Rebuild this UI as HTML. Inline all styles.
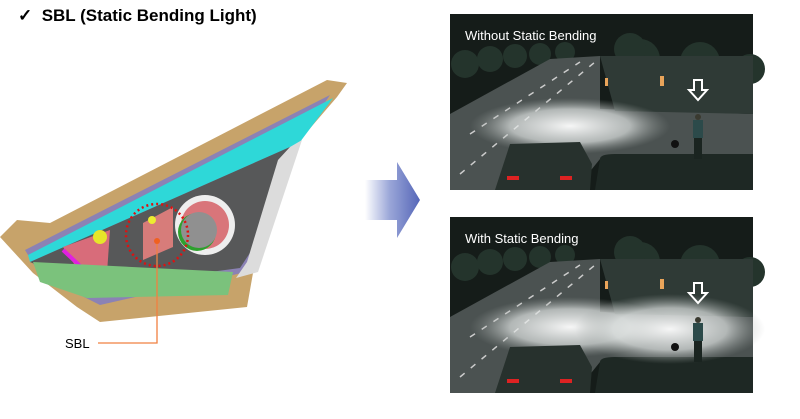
<!DOCTYPE html>
<html><head><style>
html,body{margin:0;padding:0;background:#fff;width:800px;height:419px;overflow:hidden;font-family:"Liberation Sans",sans-serif}
.t{position:absolute;left:18px;top:6px;font-size:17px;font-weight:bold;color:#000}
</style></head><body>
<div class="t">✓&nbsp; SBL (Static Bending Light)</div>
<svg width="800" height="419" style="position:absolute;left:0;top:0" xmlns="http://www.w3.org/2000/svg">
<defs>
<radialGradient id="lg" cx="50%" cy="50%" r="50%"><stop offset="0" stop-color="#fff" stop-opacity="0.95"/><stop offset="0.6" stop-color="#dfe3e2" stop-opacity="0.7"/><stop offset="1" stop-color="#9aa09e" stop-opacity="0"/></radialGradient>
<linearGradient id="ag" x1="0" x2="1"><stop offset="0" stop-color="#fff"/><stop offset="0.45" stop-color="#9aa6d8"/><stop offset="1" stop-color="#5566b8"/></linearGradient>
<g id="scene">
<rect width="303" height="176" fill="#151c19"/>
<g fill="#24342c"><circle cx="15" cy="50" r="14"/><circle cx="40" cy="45" r="13"/><circle cx="65" cy="42" r="12"/><circle cx="90" cy="40" r="11"/><circle cx="115" cy="38" r="10"/><circle cx="190" cy="45" r="20"/><circle cx="250" cy="48" r="20"/><circle cx="300" cy="55" r="15"/><circle cx="180" cy="35" r="16"/></g>
<polygon points="0,100 100,45 150,42 150,95 303,100 303,145 150,145 125,176 0,176" fill="#4b5251"/>
<polygon points="150,42 303,42 303,100 165,97" fill="#2f3a36"/>
<path d="M150,145 Q150,140 165,140 L303,140 L303,176 L145,176 Z" fill="#1e2824"/>
<g stroke="#ccc" stroke-width="1.5" stroke-dasharray="6 8"><line x1="20" y1="120" x2="130" y2="48"/><line x1="10" y1="160" x2="145" y2="48"/></g>
<rect x="155" y="64" width="3" height="8" fill="#e9a45a"/><rect x="210" y="62" width="4" height="10" fill="#e9a45a"/>
</g>
<g id="fg">
<polygon points="60,130 130,128 142,150 140,176 45,176" fill="#27312d"/>
<rect x="57" y="162" width="12" height="4" fill="#d22"/><rect x="110" y="162" width="12" height="4" fill="#d22"/>
<circle cx="225" cy="130" r="4" fill="#111"/>
<polygon points="244,66 252,66 252,76 257,76 248,86 239,76 244,76" fill="none" stroke="#fff" stroke-width="2"/>
<circle cx="248" cy="103" r="3" fill="#3a3a30"/><rect x="243" y="106" width="10" height="18" fill="#2c4a4a"/><rect x="244" y="124" width="8" height="21" fill="#1a2420"/>
</g>
</defs>

<!-- headlamp -->
<polygon points="0,237 17,220 50,223 327,80 347,83 337,97 300,140 253,273 247,307 100,322 77,307 33,273" fill="#c7a36a"/>
<polygon points="25,250 330,95 300,140 255,270 100,305 40,275" fill="#8b82b5"/>
<polygon points="28,255 333,98 300,142 290,147 30,262" fill="#2ed8d8"/>
<polygon points="30,262 290,147 265,230 240,268 90,288" fill="#575859"/>
<polygon points="290,147 302,140 258,272 236,278 247,262 278,160" fill="#dcdcdc"/>
<polygon points="63,247 110,230 107,273 80,273" fill="#d86c7a"/>
<polyline points="63,250 95,280 108,280" fill="none" stroke="#e020e0" stroke-width="4"/>
<circle cx="100" cy="237" r="7" fill="#e6e62a"/>
<polygon points="143,223 173,207 173,247 143,260" fill="#d77c7a"/>
<circle cx="152" cy="220" r="4" fill="#ecec30"/>
<polygon points="33,262 233,272 228,295 87,298 40,282" fill="#7bc27c"/>
<circle cx="205" cy="225" r="30" fill="#eee"/>
<circle cx="205" cy="225" r="24" fill="#d9757a"/>
<circle cx="197" cy="232" r="19" fill="#2ea02e"/>
<circle cx="199" cy="230" r="18" fill="#909090"/>
<circle cx="157" cy="235" r="31" fill="none" stroke="#e01010" stroke-width="2.5" stroke-dasharray="2 3"/>
<polyline points="157,240 157,343 98,343" fill="none" stroke="#f08040" stroke-width="1.3"/>
<circle cx="157" cy="241" r="3" fill="#f06020"/>
<text x="65" y="348" font-size="13" fill="#000" font-family="Liberation Sans">SBL</text>

<!-- arrow -->
<polygon points="365,180 397,180 397,162 420,200 397,238 397,220 365,220" fill="url(#ag)"/>

<g transform="translate(450,14)">
<use href="#scene"/>
<ellipse cx="120" cy="112" rx="100" ry="28" fill="url(#lg)"/>
<use href="#fg"/>
<text x="15" y="26" font-size="13" fill="#fff" font-family="Liberation Sans">Without Static Bending</text>
</g>
<g transform="translate(450,217)">
<use href="#scene"/>
<ellipse cx="120" cy="110" rx="100" ry="30" fill="url(#lg)"/>
<ellipse cx="220" cy="112" rx="95" ry="35" fill="url(#lg)"/>
<use href="#fg"/>
<text x="15" y="26" font-size="13" fill="#fff" font-family="Liberation Sans">With Static Bending</text>
</g>
</svg>
</body></html>
